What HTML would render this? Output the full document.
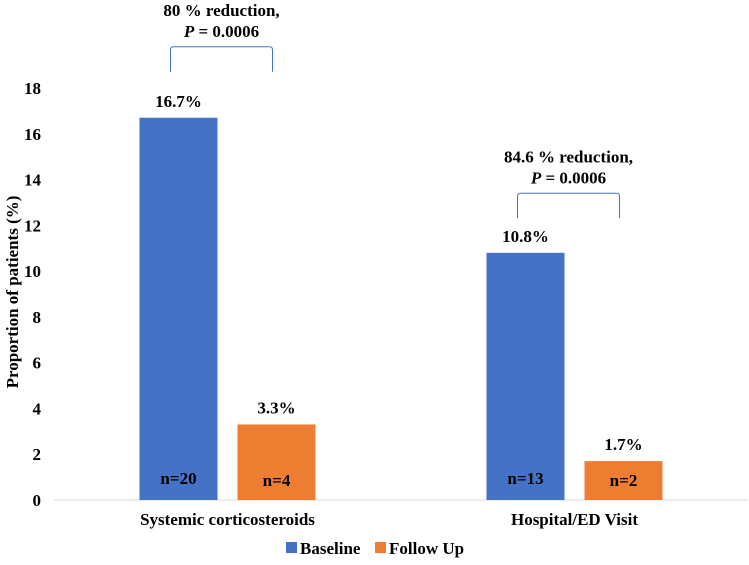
<!DOCTYPE html>
<html><head><meta charset="utf-8"><style>
body{margin:0;background:#fff;}
svg text{font-family:"Liberation Serif",serif;font-weight:bold;fill:#000;}
</style></head><body>
<svg id="chart" width="749" height="560" viewBox="0 0 749 560" xmlns="http://www.w3.org/2000/svg"></svg>
<script>
const categories=["Systemic corticosteroids","Hospital/ED Visit"];
const baselineValues=[16.7,10.8];
const followValues=[3.3,1.7];
const baselineN=["n=20","n=13"];
const followN=["n=4","n=2"];
const yTicks=[0,2,4,6,8,10,12,14,16,18];
const annotLine1=["80 % reduction,","84.6 % reduction,"];
const annotP=["0.0006","0.0006"];
const bracketLevels=[19.8,13.4];

const NS="http://www.w3.org/2000/svg";
const svg=document.getElementById('chart');
const x0=54,x1=748,y0=500,yTop=88,yMax=18;
const y=v=>y0-(v/yMax)*(y0-yTop);
const bandW=(x1-x0)/categories.length;
const cx=i=>x0+bandW*(i+0.5);
const barW=78,gap=20,FS=17;
function el(tag,attrs,txt){const e=document.createElementNS(NS,tag);for(const k in attrs)e.setAttribute(k,attrs[k]);if(txt!==undefined)e.textContent=txt;svg.appendChild(e);return e;}

yTicks.forEach(t=>{
 const e=el('text',{x:41,y:y(t)+6,'text-anchor':'end','font-size':FS},String(t));
 
 
});
const yt=el('text',{x:0,y:0,transform:'translate(18,292) rotate(-90)','text-anchor':'middle','font-size':FS},'Proportion of patients (%)');


const ax=el('line',{x1:x0,x2:x1,y1:y0,y2:y0,stroke:'#d9d9d9','stroke-width':1});



categories.forEach((c,i)=>{
 const bx=cx(i)-gap/2-barW, fx=cx(i)+gap/2;
 const b=el('rect',{x:bx,y:y(baselineValues[i]),width:barW,height:y0-y(baselineValues[i]),fill:'#4472c4'});
 
 
 const f=el('rect',{x:fx,y:y(followValues[i]),width:barW,height:y0-y(followValues[i]),fill:'#ed7d31'});
 
 
 const bl=el('text',{x:bx+barW/2,y:y(baselineValues[i])-11,'text-anchor':'middle','font-size':FS},baselineValues[i].toFixed(1)+'%');
 
 
 const fl=el('text',{x:fx+barW/2,y:y(followValues[i])-11,'text-anchor':'middle','font-size':FS},followValues[i].toFixed(1)+'%');
 
 
 const bn=el('text',{x:bx+barW/2,y:484,'text-anchor':'middle','font-size':FS},baselineN[i]);
 
 
 const fn=el('text',{x:fx+barW/2,y:486,'text-anchor':'middle','font-size':FS},followN[i]);
 
 
 const cl=el('text',{x:cx(i),y:525,'text-anchor':'middle','font-size':FS},c);
 
 
 const top=y(bracketLevels[i]);
 const lx=bx+barW/2-8, rx=fx+barW/2-4;
 const br=el('path',{d:`M${lx},${top+25} V${top+3} Q${lx},${top} ${lx+3},${top} H${rx-3} Q${rx},${top} ${rx},${top+3} V${top+25}`,fill:'none',stroke:'#4472c4','stroke-width':1});
 
 
 const mid=(lx+rx)/2;
 const a1=el('text',{x:mid,y:top-31,'text-anchor':'middle','font-size':FS},annotLine1[i]);
 
 
 const a2=el('text',{x:mid,y:top-10,'text-anchor':'middle','font-size':FS});
 
 
 const ts=document.createElementNS(NS,'tspan');ts.setAttribute('font-style','italic');ts.textContent='P';a2.appendChild(ts);
 a2.appendChild(document.createTextNode(' = '+annotP[i]));
});

const l1=el('rect',{x:286,y:542,width:11,height:11,fill:'#4472c4'});


const l1t=el('text',{x:300,y:554,'font-size':FS},'Baseline');


const l2=el('rect',{x:375,y:542,width:11,height:11,fill:'#ed7d31'});


const l2t=el('text',{x:389,y:554,'font-size':FS},'Follow Up');


</script>
</body></html>
